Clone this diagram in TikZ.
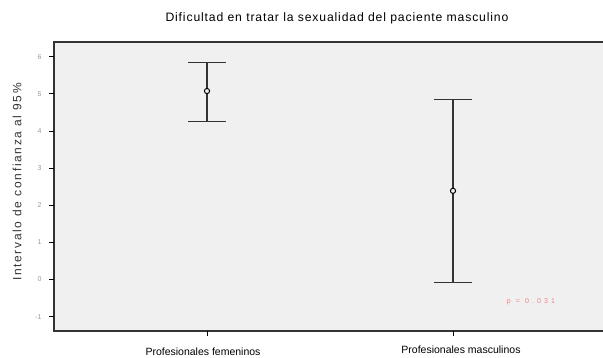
\documentclass[tikz,border=0pt]{standalone}
\usepackage{fontspec}
\setmainfont{Liberation Sans}
\newfontfamily\widesans[LetterSpace=14]{Liberation Sans}
\newfontfamily\titlesans[LetterSpace=7]{Liberation Sans}
\newfontfamily\pvalsans[LetterSpace=45]{Liberation Sans}
\definecolor{panel}{HTML}{F0F0F0}
\definecolor{pval}{HTML}{F08080}
\tikzset{
  axisline/.style={line width=1.2pt, draw=black!80},
  errbar/.style={line width=1.1pt, draw=black!80},
  ticklab/.style={font=\fontsize{7}{8}\selectfont, text=black!40, anchor=east},
  catlab/.style={font=\fontsize{10.5}{12}\selectfont, anchor=center}
}
\begin{document}
\begin{tikzpicture}[x=1pt, y=1pt]
  \useasboundingbox (0,0) rectangle (603,358);
  \fill[panel] (54,27) rectangle (603,316);
  \draw[axisline] (603,316) -- (54,316) -- (54,27) -- (603,27);
  \node (title) at (337,340) {\titlesans\fontsize{12.2}{14}\selectfont Dificultad en tratar la sexualidad del paciente masculino};
  \node[rotate=90, text=black!80] (ylabel) at (17,176) {\widesans\fontsize{12}{14}\selectfont Intervalo de confianza al 95\%};
  \foreach \v in {-1,...,6} {
    \draw[line width=1pt] (49,78.5+37.1*\v) -- (54,78.5+37.1*\v);
    \node[ticklab] (tick\v) at (45,78.5+37.1*\v) {\v};
  }
  \draw[line width=0.8pt] (207,27) -- (207,22);
  \draw[line width=0.8pt] (453,27) -- (453,22);
  \node[catlab] (femlab) at (203,6) {Profesionales femeninos};
  \node[catlab] (maslab) at (461,8) {Profesionales masculinos};
  \coordinate (femtop) at (207,78.5+37.1*5.86);
  \coordinate (fembot) at (207,78.5+37.1*4.27);
  \coordinate (femmean) at (207,78.5+37.1*5.08);
  \coordinate (mastop) at (453,78.5+37.1*4.84);
  \coordinate (masbot) at (453,78.5+37.1*-0.07);
  \coordinate (masmean) at (453,78.5+37.1*2.39);
  \draw[errbar] (femtop) -- (fembot);
  \draw[errbar] ([xshift=-19pt]femtop) -- ([xshift=19pt]femtop);
  \draw[errbar] ([xshift=-19pt]fembot) -- ([xshift=19pt]fembot);
  \draw[errbar] (mastop) -- (masbot);
  \draw[errbar] ([xshift=-19pt]mastop) -- ([xshift=19pt]mastop);
  \draw[errbar] ([xshift=-19pt]masbot) -- ([xshift=19pt]masbot);
  \draw[line width=1pt, fill=panel] (femmean) circle (2.6pt);
  \draw[line width=1pt, fill=panel] (masmean) circle (2.6pt);
  \node[text=pval] (pvalue) at (531,56) {\pvalsans\fontsize{7}{8}\selectfont p = 0.031};
\end{tikzpicture}
\end{document}
